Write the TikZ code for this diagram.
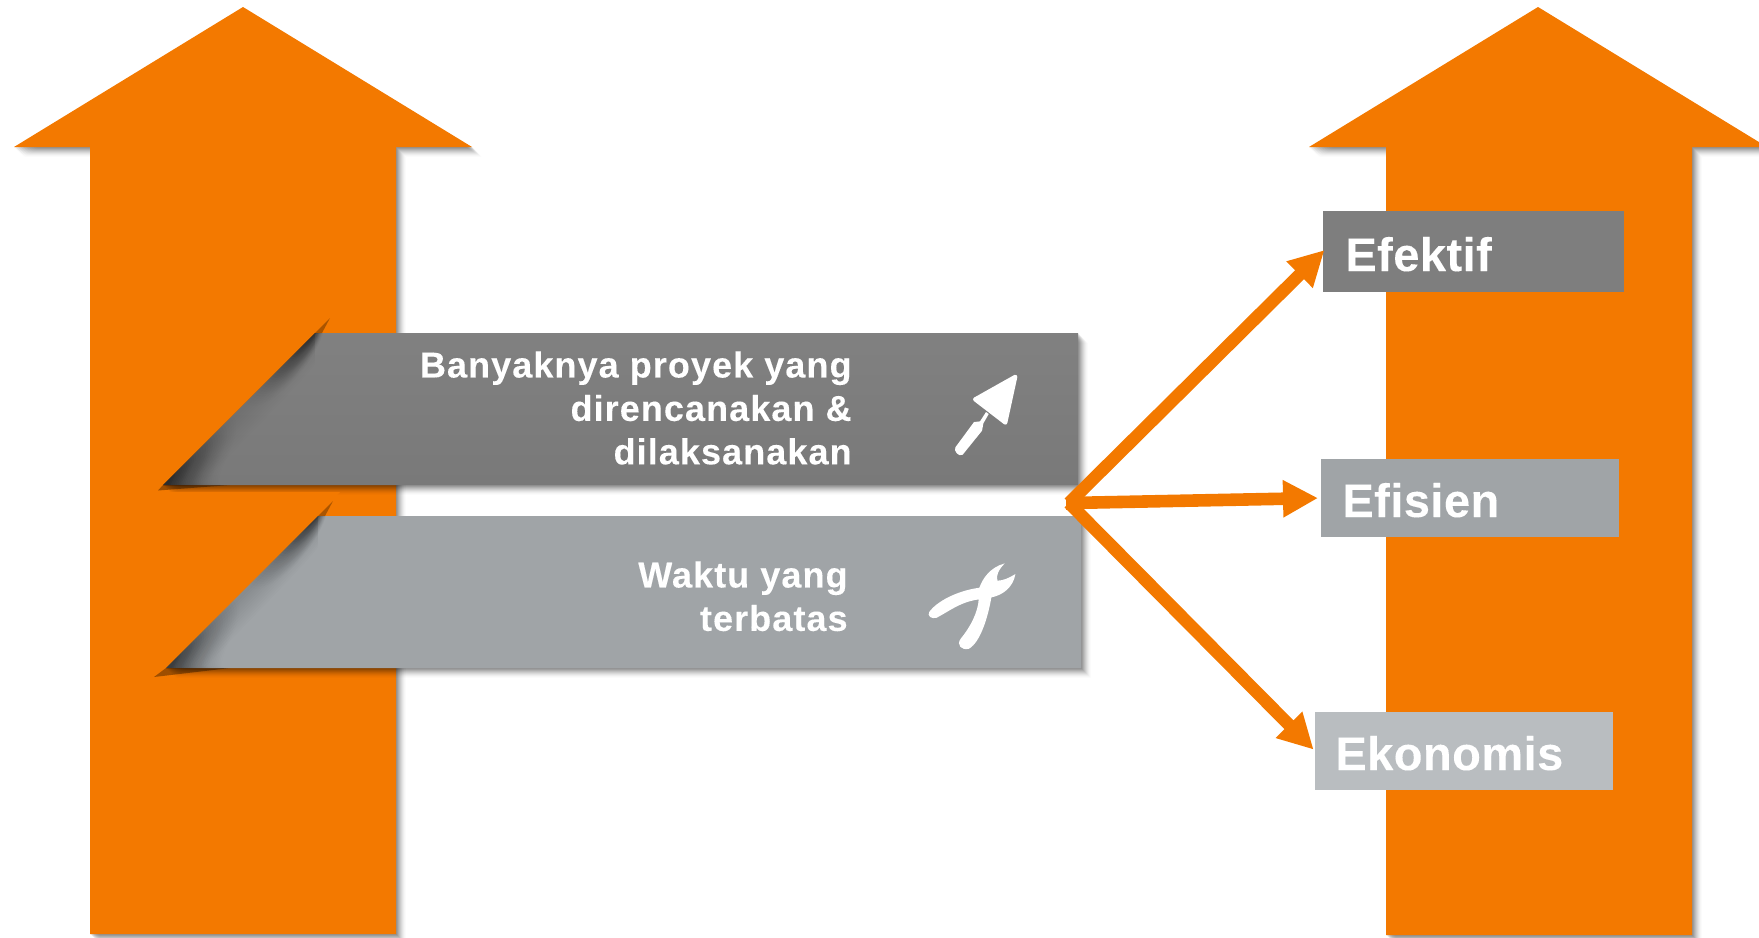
\documentclass[tikz,border=0pt]{standalone}
\usepackage{fontspec}
\setmainfont{Liberation Sans}
\usetikzlibrary{arrows.meta}
\definecolor{arroworange}{HTML}{F37900}
\definecolor{gdark}{HTML}{7E7E7E}
\definecolor{gmid}{HTML}{A0A4A7}
\definecolor{glight}{HTML}{B9BDC0}
\newfontfamily\heavyfont[FakeBold=0.12]{Liberation Sans Bold}
\tikzset{
  shaftarrow/.style={fill=arroworange},
  softshade/.style={fill=black,fill opacity=#1},
  curlshade/.style={fill=black,fill opacity=#1},
  resultbox/.style={anchor=north west,inner sep=0pt,outer sep=0pt},
  resulttext/.style={anchor=base west,inner sep=0pt,text=white,font=\fontsize{23.5}{26}\selectfont\heavyfont\addfontfeatures{LetterSpace=1}},
  bandtext/.style={anchor=north east,inner sep=0pt,text=white,align=right,font=\fontsize{18}{21.7}\selectfont\heavyfont\addfontfeatures{LetterSpace=3}},
  flow/.style={draw=arroworange,line width=6.3pt,-{Triangle[length=17.5pt,width=17.5pt]}},
  icon/.style={fill=white},
}
% soft shadow: stacked shifted copies of a closed path, lighter further out
\newcommand{\softcopy}[1]{\foreach \s/\o in {10/0.012,9/0.02,8/0.03,7/0.04,6/0.05,5/0.06,4/0.07,3/0.08,2/0.09,1/0.09}{\path[softshade=\o,shift={(\s,\s)}] #1;}}
% curl shadow along a 45-degree slanted band edge, (#1,#2)=lower left corner, #3=rise
\newcommand{\curlat}[3]{%
  \foreach \t in {4,6,...,26}{\path[curlshade=0.008] (#1,#2) -- ({#1+#3},{#2-#3}) -- ({#1+#3},{#2-#3+1.2*\t})
     .. controls ({#1+#3-25+0.7*\t},{#2-#3+25+0.7*\t}) and ({#1+25+0.7*\t},{#2-25+0.7*\t}) .. ({#1+1.5*\t},#2) -- cycle;}
  \foreach \t in {1,2,...,28}{
    \pgfmathsetmacro{\q}{8+2.2*\t}
    \pgfmathsetmacro{\o}{0.042-0.0013*\t}
    \path[curlshade=\o] (#1,#2) -- ({#1+\q},{#2-\q})
       .. controls ({#1+\q+0.6*\t},{#2-\q+0.6*\t}) and ({#1+4+1.4*\t},{#2-1}) .. ({#1+4+2.0*\t},#2) -- cycle;
    \path[curlshade=\o] ({#1+#3},{#2-#3}) -- ({#1+#3-\q},{#2-#3+\q})
       .. controls ({#1+#3-\q+0.6*\t},{#2-#3+\q+0.6*\t}) and ({#1+#3-0.1*\t},{#2-#3+1.3*\t}) .. ({#1+#3+0.3*\t},{#2-#3}) -- cycle;
  }}
\begin{document}
\begin{tikzpicture}[x=0.5pt,y=-0.5pt]
\useasboundingbox (0,0) rectangle (1759,937);
% big arrows
\softcopy{(243,7) -- (472,147) -- (396,147) -- (396,934) -- (90,934) -- (90,147) -- (14,147) -- cycle}
\path[shaftarrow] (243,7) -- (472,147) -- (396,147) -- (396,934) -- (90,934) -- (90,147) -- (14,147) -- cycle;
\softcopy{(1538,7) -- (1767,147) -- (1692,147) -- (1692,935) -- (1386,935) -- (1386,147) -- (1309,147) -- cycle}
\path[shaftarrow] (1538,7) -- (1767,147) -- (1692,147) -- (1692,935) -- (1386,935) -- (1386,147) -- (1309,147) -- cycle;
% upper band
\softcopy{(163,485) -- (315,333) -- (1078,333) -- (1078,485) -- cycle}
\path[fill=black,fill opacity=.35] (158,490.5) -- (163,485) -- (230,485) -- cycle;
\path[top color=gdark!98!white,bottom color=gdark!96!black] (163,485) -- (315,333) -- (1078,333) -- (1078,485) -- cycle;
\begin{scope}
\clip (163,485) -- (315,333) -- (1078,333) -- (1078,485) -- cycle;
\curlat{163}{485}{152}
\end{scope}
\path[fill=black,fill opacity=.3] (315,333) -- (330,318) -- (322,333) -- cycle;
% fold of the arrow between the bands
\path[shaftarrow] (150,492) -- (340,492) -- (153,679) -- cycle;
% lower band
\softcopy{(166,668) -- (318,516) -- (1081,516) -- (1081,668) -- cycle}
\path[fill=black,fill opacity=.35] (154,677) -- (166,668) -- (230,668) -- cycle;
\path[fill=gmid] (166,668) -- (318,516) -- (1081,516) -- (1081,668) -- cycle;
\begin{scope}
\clip (166,668) -- (318,516) -- (1081,516) -- (1081,668) -- cycle;
\curlat{166}{668}{152}
\end{scope}
\path[fill=black,fill opacity=.3] (318,516) -- (333,501) -- (325,516) -- cycle;
% band texts
\node[bandtext] (bandone) at (852,351) {Banyaknya proyek yang\\direncanakan \&\\dilaksanakan};
\node[bandtext] (bandtwo) at (848,561) {Waktu yang\\terbatas};
% trowel
\begin{scope}[shift={(900,340)},x=0.1667pt,y=-0.1667pt]
\path[icon,draw=white,line width=2pt,line join=round] (346,110) -- (225,178) -- (316,248) -- cycle;
\path[icon] (266,222) -- (258,216) -- (240,244) -- (222,246) -- (166,322) .. controls (160,332) and (176,352) .. (188,344) -- (246,272) -- (250,250) -- cycle;
\end{scope}
% pliers
\begin{scope}[shift={(900,340)},x=0.1667pt,y=-0.1667pt]
\path[icon] (88,815) .. controls (110,785) and (170,752) .. (238,743)
  .. controls (248,715) and (270,682) .. (314,670) .. controls (295,690) and (288,705) .. (292,722)
  .. controls (310,722) and (330,712) .. (346,702) .. controls (340,740) and (310,765) .. (274,772)
  .. controls (264,830) and (242,905) .. (207,926) .. controls (185,932) and (168,915) .. (182,896)
  .. controls (212,860) and (234,815) .. (236,778)
  .. controls (180,786) and (150,812) .. (110,833) .. controls (95,838) and (80,828) .. (88,815) -- cycle;
\end{scope}
% result boxes
\node[resultbox,fill=gdark,minimum width=150.5pt,minimum height=40.5pt] (efektif) at (1323,211) {};
\node[resultbox,fill=gmid,minimum width=149pt,minimum height=39pt] (efisien) at (1321,459) {};
\node[resultbox,fill=glight,minimum width=149pt,minimum height=39pt] (ekonomis) at (1315,712) {};
\node[resulttext] (efektiftext) at (1345,271) {Efektif};
\node[resulttext] (efisientext) at (1342,517) {Efisien};
\node[resulttext] (ekonomistext) at (1335,770) {Ekonomis};
% connectors
\node[fill=arroworange,inner sep=0pt,minimum width=3pt,minimum height=6.5pt] (hub) at (1069,503) {};
\draw[flow,shorten >=-1pt] (hub.center) -- (efektif.west);
\draw[flow,shorten >=1.5pt] (hub.center) -- (efisien.west);
\draw[flow,shorten >=1pt] (hub.center) -- (ekonomis.west);
\end{tikzpicture}
\end{document}
